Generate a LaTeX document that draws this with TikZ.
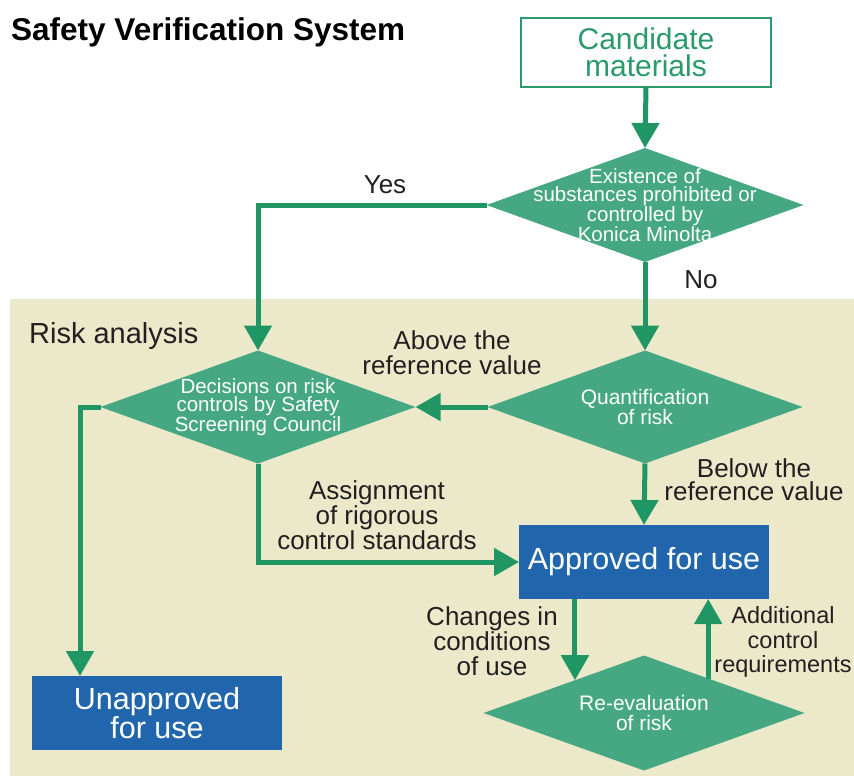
\documentclass[tikz,border=0pt]{standalone}
\usepackage{fontspec}
\setmainfont{Liberation Sans}
\usetikzlibrary{arrows.meta,shapes.geometric,calc}
\definecolor{arrG}{HTML}{1F9664}
\definecolor{diaG}{HTML}{45A882}
\definecolor{boxB}{HTML}{2166AC}
\definecolor{beige}{HTML}{ECE9CB}
\definecolor{txt}{HTML}{231F20}
\definecolor{candG}{HTML}{2A9A6A}
\begin{document}
\begin{tikzpicture}[x=1pt,y=-1pt,
  arr/.style={draw=arrG, line width=5pt, -{Triangle[length=25pt,width=27pt]}},
  dia/.style={diamond, fill=diaG, inner sep=0pt, outer sep=0pt},
  dtext/.style={text=white, align=center, inner sep=0pt, font=\fontsize{20.5}{18}\selectfont},
  dtextb/.style={text=white, align=center, inner sep=0pt, font=\fontsize{21}{20}\selectfont},
  bluebox/.style={rectangle, fill=boxB, text=white, align=center, minimum width=250pt, minimum height=74pt, inner sep=0pt, outer sep=0pt, font=\fontsize{30.5}{26}\selectfont},
  lbl/.style={text=txt, align=center, inner sep=0pt, font=\fontsize{26}{25}\selectfont},
]
\useasboundingbox (0,0) rectangle (854,776);
\fill[white] (0,0) rectangle (854,776);
\fill[beige] (10,299) rectangle (854,776);

% title and section label
\node[anchor=base west, inner sep=0pt, font=\bfseries\fontsize{31.5}{35}\selectfont] (title) at (11,41) {Safety Verification System};
\node[anchor=base west, inner sep=0pt, text=txt, font=\fontsize{29}{30}\selectfont] (risk) at (29,343) {Risk analysis};

% nodes
\node[draw=candG, line width=2pt, outer sep=0pt, minimum width=250pt, minimum height=69pt, text=candG, align=center, font=\fontsize{30}{26.5}\selectfont] (cand) at (646,52.5) {Candidate\\materials};

\node[dia, minimum width=317pt, minimum height=114pt] (d1) at (645,205) {};
\node[dtext] (d1t) at (d1.center) {Existence of\\substances prohibited or\\controlled by\\Konica Minolta};

\node[dia, minimum width=315pt, minimum height=113pt] (d2) at (645,407) {};
\node[dtextb] (d2t) at (d2.center) {Quantification\\of risk};

\node[dia, minimum width=315pt, minimum height=113pt] (d3) at (258,407) {};
\node[dtext] (d3t) at (d3.center) {Decisions on risk\\controls by Safety\\Screening Council};

\node[bluebox] (appr) at (644,562) {Approved for use};
\node[bluebox] (unap) at (157,713) {Unapproved\\for use};

\node[dia, minimum width=321pt, minimum height=115pt] (d4) at (644,713) {};
\node[dtextb] (d4t) at (d4.center) {Re-evaluation\\of risk};

% helper coordinates
\coordinate (ut) at ([xshift=48pt]unap.north west);
\coordinate (c4a) at ($(d4.north)!0.43!(d4.west)$);
\coordinate (c4b) at ($(d4.north)!0.4!(d4.east)$);

% connectors
\draw[arr] (cand.south) -- (d1.north);
\draw[arr] (d1.west) -| (d3.north);
\draw[arr] (d1.south) -- (d2.north);
\draw[arr] (d2.west) -- (d3.east);
\draw[arr] (d2.south) -- (appr.north);
\draw[arr] (d3.south) |- (appr.west);
\draw[arr] (d3.west) -| (ut);
\draw[arr] (appr.south -| c4a) -- (c4a);
\draw[arr] (c4b) -- (c4b |- appr.south);

% labels
\node[lbl, anchor=base] (lyes) at (385,193) {Yes};
\node[lbl, anchor=base] (lno) at (701,288) {No};
\node[lbl] (labove) at (452,353) {Above the\\reference value};
\node[lbl, font=\fontsize{26}{23.5}\selectfont] (lbelow) at (754,479.5) {Below the\\reference value};
\node[lbl] (lassign) at (377,515) {Assignment\\of rigorous\\control standards};
\node[lbl] (lchange) at (492,641) {Changes in\\conditions\\of use};
\node[lbl, font=\fontsize{23.5}{24.5}\selectfont] (ladd) at (783,642) {Additional\\control\\requirements};
\end{tikzpicture}
\end{document}
